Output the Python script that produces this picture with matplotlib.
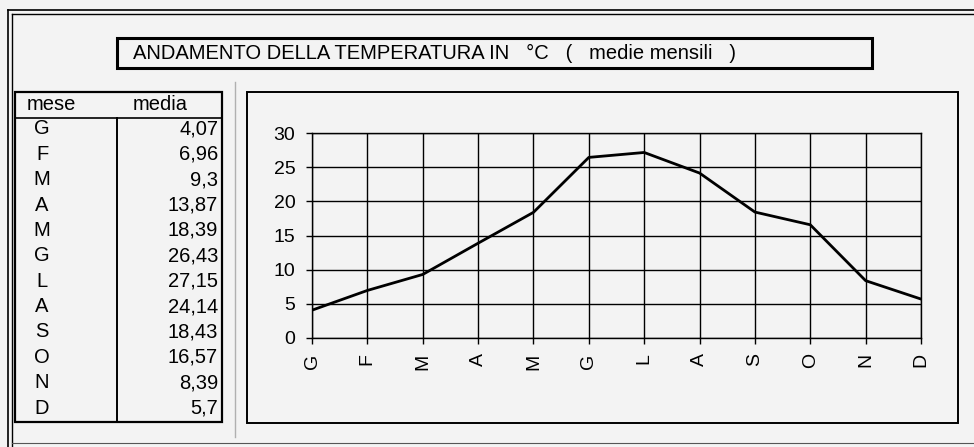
import matplotlib
matplotlib.use("Agg")
import matplotlib.pyplot as plt
from matplotlib.patches import Rectangle
from matplotlib.lines import Line2D

plt.rcParams['font.family'] = ['Liberation Sans', 'DejaVu Sans']

# dati: temperature medie mensili
mesi = ['G', 'F', 'M', 'A', 'M', 'G', 'L', 'A', 'S', 'O', 'N', 'D']
medie = [4.07, 6.96, 9.3, 13.87, 18.39, 26.43, 27.15, 24.14, 18.43, 16.57, 8.39, 5.7]
titolo = "ANDAMENTO DELLA TEMPERATURA IN   \u00b0C   (   medie mensili   )"
y_ticks = [0, 5, 10, 15, 20, 25, 30]

W, H = 974, 447
fig = plt.figure(figsize=(W / 100, H / 100), dpi=100)
fig.patch.set_facecolor('#f3f3f3')


def fx(x):
    return x / W


def fy(y):
    return 1 - y / H


def hline(x0, x1, y, lw=1.0, color='black'):
    fig.add_artist(Line2D([fx(x0), fx(x1)], [fy(y), fy(y)], lw=lw, color=color,
                          transform=fig.transFigure))


def vline(x, y0, y1, lw=1.0, color='black'):
    fig.add_artist(Line2D([fx(x), fx(x)], [fy(y0), fy(y1)], lw=lw, color=color,
                          transform=fig.transFigure))


def box(x0, y0, x1, y1, lw=1.0):
    fig.add_artist(Rectangle((fx(x0), fy(y1)), fx(x1) - fx(x0), fy(y0) - fy(y1),
                             fill=False, lw=lw, ec='black', transform=fig.transFigure))


# cornice esterna (doppia linea)
hline(8, W, 10, lw=1.2)
hline(12, W, 14, lw=1.0)
vline(8, 10, 447, lw=1.2)
vline(12, 14, 447, lw=1.0)
hline(12, W, 443, lw=0.8, color='#555555')

# titolo
box(117, 38, 872, 68, lw=2.2)
fig.text(fx(133), fy(53), titolo, fontsize=14.5, va='center', ha='left')

# separatore
vline(235, 82, 437, lw=1.0, color='#b0b0b0')

# tabella
box(15, 92, 222, 422, lw=1.6)
hline(15, 222, 118, lw=1.2)
vline(117, 118, 422, lw=1.4)
fig.text(fx(27), fy(105), "mese", fontsize=14.5, va='center', ha='left')
fig.text(fx(133), fy(105), "media", fontsize=14.5, va='center', ha='left')
passo = (408 - 129) / (len(mesi) - 1)
for i, (m, v) in enumerate(zip(mesi, medie)):
    yy = 129 + i * passo
    fig.text(fx(42), fy(yy), m, fontsize=14.5, va='center', ha='center')
    fig.text(fx(218), fy(yy), str(v).replace('.', ','), fontsize=14.5,
             va='center', ha='right')

# riquadro del grafico
box(247, 92, 958, 423, lw=1.4)

ax = fig.add_axes([fx(312), fy(338), fx(921) - fx(312), fy(133) - fy(338)])
ax.set_facecolor('none')
x = list(range(len(mesi)))
ax.plot(x, medie, color='black', lw=2.0)
ax.set_xlim(0, len(mesi) - 1)
ax.set_ylim(0, 30)
ax.set_xticks(x)
ax.set_xticklabels(mesi, rotation=90, fontsize=14)
ax.set_yticks(y_ticks)
ax.set_yticklabels([str(t) for t in y_ticks], fontsize=14)
ax.grid(True, color='black', lw=1.0)
ax.set_axisbelow(True)
for s in ax.spines.values():
    s.set_linewidth(1.0)
ax.tick_params(axis='both', length=4, width=1.0, color='black')
ax.tick_params(axis='y', pad=8)
ax.tick_params(axis='x', pad=7)

fig.savefig("out.png", dpi=100, facecolor=fig.get_facecolor())
